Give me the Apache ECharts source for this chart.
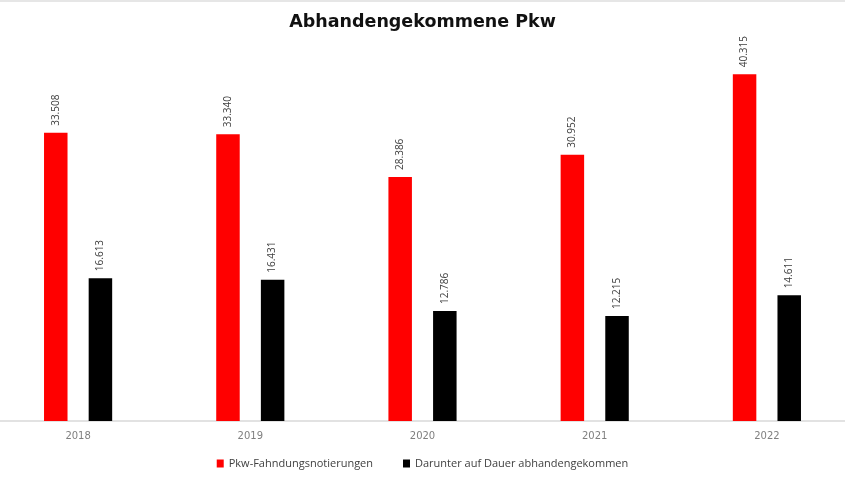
<!DOCTYPE html>
<html>
<head>
<meta charset="utf-8">
<script src="https://cdn.jsdelivr.net/npm/echarts@6/dist/echarts.min.js"></script>
<style>
  html, body { margin: 0; padding: 0; background: #fff; overflow: hidden; }
  #wrap { position: relative; width: 845px; height: 480px; overflow: hidden; }
  #chart { position: absolute; left: -8px; top: 0; width: 861px; height: 480px; }
  #topline { position: absolute; left: 0; top: 0; width: 845px; height: 2px; background: #e6e6e6; }
</style>
</head>
<body>
<div id="wrap">
  <div id="chart"></div>
  <div id="topline"></div>
</div>
<script>
const years = ["2018", "2019", "2020", "2021", "2022"];
const fahndungen = [33508, 33340, 28386, 30952, 40315];
const abhanden = [16613, 16431, 12786, 12215, 14611];

function formatDe(value) {
  return String(value).replace(/\B(?=(\d{3})+(?!\d))/g, ".");
}

const LABEL_DEFAULT = {
  show: true,
  position: "top",
  rotate: 90,
  align: "left",
  verticalAlign: "middle",
  distance: 7,
  color: "#404040",
  fontSize: 10,
  fontFamily: "Open Sans",
  formatter: (p) => formatDe(p.value),
};

let myChart = echarts.init(document.getElementById("chart"));

let option = {
  animation: false,
  title: {
    text: "Abhandengekommene Pkw",
    left: "center",
    top: 8,
    textStyle: {
      fontFamily: "DejaVu Sans",
      fontWeight: "bold",
      fontSize: 17.5,
      color: "#111",
    },
  },
  legend: {
    bottom: 6,
    left: "center",
    itemWidth: 7,
    itemHeight: 8,
    itemGap: 30,
    icon: "rect",
    textStyle: { fontFamily: "Open Sans", fontSize: 11, color: "#404040" },
  },
  grid: { left: 0, right: 0, top: 34, bottom: 59 },
  xAxis: {
    type: "category",
    data: years,
    axisLine: { lineStyle: { color: "#d9d9d9", width: 1.5 } },
    axisTick: { show: false },
    axisLabel: { color: "#7f7f7f", fontSize: 10, fontFamily: "DejaVu Sans", margin: 10 },
  },
  yAxis: {
    type: "value",
    min: 0,
    max: 45000,
    show: false,
    splitLine: { show: false },
  },
  series: [
    {
      name: "Pkw-Fahndungsnotierungen",
      type: "bar",
      data: fahndungen,
      barWidth: 23.5,
      barGap: "90%",
      itemStyle: { color: "#ff0000" },
      label: { ...LABEL_DEFAULT },
    },
    {
      name: "Darunter auf Dauer abhandengekommen",
      type: "bar",
      data: abhanden,
      barWidth: 23.5,
      itemStyle: { color: "#000000" },
      label: { ...LABEL_DEFAULT },
    },
  ],
};

option && myChart.setOption(option);
</script>
</body>
</html>
